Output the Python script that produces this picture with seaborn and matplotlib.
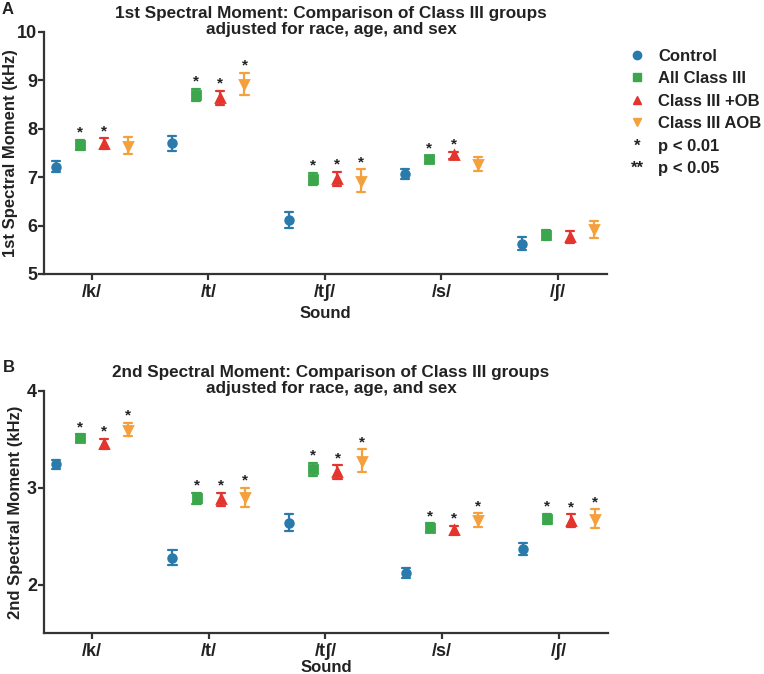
import numpy as np
import pandas as pd
import matplotlib
matplotlib.use("Agg")
import matplotlib.pyplot as plt
from matplotlib.lines import Line2D
import seaborn as sns

sounds = ["/k/", "/t/", "/t\u0283/", "/s/", "/\u0283/"]
groups = ["Control", "All Class III", "Class III +OB", "Class III AOB"]

# Panel A: 1st spectral moment (kHz), mean and error
a_control = [7.22, 7.70, 6.12, 7.07, 5.63]
a_all = [7.67, 8.70, 6.96, 7.37, 5.80]
a_ob = [7.69, 8.64, 6.96, 7.45, 5.76]
a_aob = [7.65, 8.93, 6.93, 7.27, 5.92]
a_err_control = [0.12, 0.16, 0.16, 0.10, 0.13]
a_err_all = [0.10, 0.13, 0.13, 0.07, 0.10]
a_err_ob = [0.11, 0.15, 0.15, 0.08, 0.12]
a_err_aob = [0.18, 0.23, 0.23, 0.14, 0.18]
a_sig_control = [0, 0, 0, 0, 0]
a_sig_all = [1, 1, 1, 1, 0]
a_sig_ob = [1, 1, 1, 1, 0]
a_sig_aob = [0, 1, 1, 0, 0]

# Panel B: 2nd spectral moment (kHz)
b_control = [3.24, 2.28, 2.64, 2.12, 2.37]
b_all = [3.51, 2.89, 3.19, 2.59, 2.68]
b_ob = [3.45, 2.88, 3.16, 2.56, 2.66]
b_aob = [3.60, 2.90, 3.28, 2.67, 2.68]
b_err_control = [0.05, 0.075, 0.085, 0.05, 0.065]
b_err_all = [0.04, 0.06, 0.07, 0.045, 0.05]
b_err_ob = [0.055, 0.07, 0.07, 0.05, 0.065]
b_err_aob = [0.07, 0.10, 0.115, 0.07, 0.10]
b_sig_control = [0, 0, 0, 0, 0]
b_sig_all = [1, 1, 1, 1, 1]
b_sig_ob = [1, 1, 1, 1, 1]
b_sig_aob = [1, 1, 1, 1, 1]

colors = ["#2a7aab", "#3ba64b", "#e3342e", "#f4a03c"]
markers = ["o", "s", "^", "v"]
legend_labels = ["Control", "All Class III", "Class III +OB", "Class III AOB", "p < 0.01", "p < 0.05"]
star_symbols = ["*", "**"]

sns.set_theme(style="white")
plt.rcParams["font.family"] = ["Liberation Sans", "DejaVu Sans"]
plt.rcParams["font.weight"] = "bold"
TXT = "#222222"

fig = plt.figure(figsize=(7.64, 6.74), dpi=100)
W, H = 764, 674


def px_axes(l, t, r, b):
    return fig.add_axes([l / W, 1 - b / H, (r - l) / W, (b - t) / H])


def build(means, errs):
    rows = []
    for g, m, e in zip(groups, means, errs):
        for s, mv, ev in zip(sounds, m, e):
            for v in (mv - ev, mv, mv + ev):
                rows.append({"Sound": s, "Group": g, "value": v})
    return pd.DataFrame(rows)


def panel(ax, means, errs, sigs, ylim, yticks, ylabel, xlabelpad, ylabel_x):
    df = build(means, errs)
    sns.pointplot(data=df, x="Sound", y="value", hue="Group", order=sounds,
                  hue_order=groups, palette=colors, markers=markers,
                  linestyles="none", dodge=0.62, estimator="median",
                  errorbar=lambda v: (np.min(v), np.max(v)), capsize=0.07,
                  err_kws={"linewidth": 1.6}, markersize=5.5, ax=ax, legend=False)
    offs = np.linspace(-0.31, 0.31, 4)
    for gi in range(4):
        for si in range(5):
            if sigs[gi][si]:
                ax.annotate("*", (si + offs[gi], means[gi][si] + errs[gi][si]),
                            xytext=(0, 0), textcoords="offset points",
                            ha="center", va="bottom", fontsize=11,
                            fontweight="bold", color=TXT)
    ax.set_xlim(-0.41, 4.42)
    ax.set_ylim(*ylim)
    ax.set_yticks(yticks)
    ax.set_yticklabels([str(t) for t in yticks], fontsize=13, fontweight="bold", color=TXT)
    ax.set_xticks(range(5))
    ax.set_xticklabels(sounds, fontsize=13, fontweight="bold", color=TXT)
    ax.set_xlabel("Sound", fontsize=12, fontweight="bold", color=TXT, labelpad=xlabelpad)
    ax.set_ylabel(ylabel, fontsize=12, fontweight="bold", color=TXT)
    ax.yaxis.set_label_coords(ylabel_x, 0.5)
    sns.despine(ax=ax)
    for sp in ("left", "bottom"):
        ax.spines[sp].set_linewidth(1.6)
        ax.spines[sp].set_color("#333333")
    ax.tick_params(axis="both", which="both", length=4, width=1.6, color="#333333",
                   bottom=True, left=True)
    ax.tick_params(axis="y", pad=1)
    ax.tick_params(axis="x", pad=3)
    ax.set_facecolor("white")


axA = px_axes(44, 32, 607, 274)
panel(axA, [a_control, a_all, a_ob, a_aob],
      [a_err_control, a_err_all, a_err_ob, a_err_aob],
      [a_sig_control, a_sig_all, a_sig_ob, a_sig_aob],
      (5, 10), [5, 6, 7, 8, 9, 10], "1st Spectral Moment (kHz)", 4, -0.047)

axB = px_axes(44, 390.7, 608, 633.3)
panel(axB, [b_control, b_all, b_ob, b_aob],
      [b_err_control, b_err_all, b_err_ob, b_err_aob],
      [b_sig_control, b_sig_all, b_sig_ob, b_sig_aob],
      (1.5, 4), [2, 3, 4], "2nd Spectral Moment (kHz)", 0, -0.038)

fig.text(331 / W, 1 - 37 / H,
         "1st Spectral Moment: Comparison of Class III groups\nadjusted for race, age, and sex",
         ha="center", va="bottom", fontsize=12.3, fontweight="bold", color=TXT,
         linespacing=1.05)
fig.text(331 / W, 1 - 396 / H,
         "2nd Spectral Moment: Comparison of Class III groups\nadjusted for race, age, and sex",
         ha="center", va="bottom", fontsize=12.3, fontweight="bold", color=TXT,
         linespacing=1.05)
fig.text(2 / W, 1 - 10 / H, "A", ha="left", va="center", fontsize=12, fontweight="bold", color=TXT)
fig.text(3 / W, 1 - 368 / H, "B", ha="left", va="center", fontsize=12, fontweight="bold", color=TXT)

handles = [Line2D([], [], linestyle="none", marker=m, color=c, markersize=6)
           for m, c in zip(markers, colors)]
handles += [Line2D([], [], linestyle="none", marker=None) for _ in star_symbols]
leg = fig.legend(handles, legend_labels, loc="upper left",
                 bbox_to_anchor=(620 / W, 1 - 42 / H), frameon=False,
                 prop={"weight": "bold", "size": 12}, handlelength=1.2,
                 handletextpad=0.7, labelspacing=0.45, borderaxespad=0)
for t in leg.get_texts():
    t.set_color(TXT)

# star symbols in the legend's handle column
fig.canvas.draw()
renderer = fig.canvas.get_renderer()
texts = leg.get_texts()
inv = fig.transFigure.inverted()
for sym, t in zip(star_symbols, texts[4:]):
    bb = t.get_window_extent(renderer)
    ymid = (bb.y0 + bb.y1) / 2
    xf, yf = inv.transform((637, ymid))
    fig.text(637 / W, yf, sym, ha="center", va="center", fontsize=12,
             fontweight="bold", color=TXT)

fig.savefig("out.png", dpi=100, facecolor="white")
